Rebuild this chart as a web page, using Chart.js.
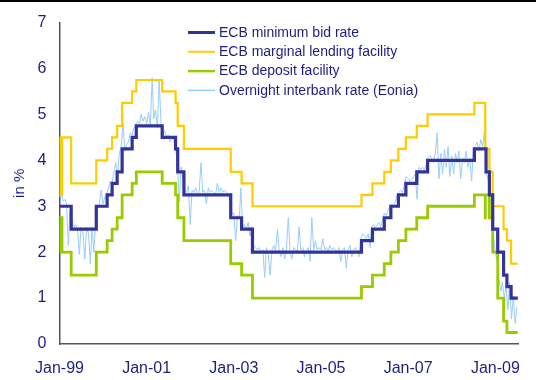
<!DOCTYPE html>
<html>
<head>
<meta charset="utf-8">
<title>ECB policy rates and Eonia</title>
<script src="https://cdn.jsdelivr.net/npm/chart.js@4.4.1/dist/chart.umd.min.js"></script>
<style>
  html, body { margin: 0; padding: 0; background: #ffffff; }
  #wrap { width: 536px; height: 380px; }
</style>
</head>
<body>
<div id="wrap"><canvas id="rates" width="536" height="380"></canvas></div>
<script>
// Series names, in legend order
const seriesLabels = [
  "ECB minimum bid rate",
  "ECB marginal lending facility",
  "ECB deposit facility",
  "Overnight interbank rate (Eonia)"
];

// Dates on which the ECB changed its key rates (last entry closes the series)
const changeDates = [
  "1999-01-01", "1999-01-04", "1999-01-22", "1999-04-09", "1999-11-05",
  "2000-02-04", "2000-03-17", "2000-04-28", "2000-06-09", "2000-09-01",
  "2000-10-06", "2001-05-11", "2001-08-31", "2001-09-18", "2001-11-09",
  "2002-12-06", "2003-03-07", "2003-06-06", "2005-12-06", "2006-03-08",
  "2006-06-15", "2006-08-09", "2006-10-11", "2006-12-13", "2007-03-14",
  "2007-06-13", "2008-07-09", "2008-10-08", "2008-10-09", "2008-10-15",
  "2008-11-12", "2008-12-10", "2009-01-21", "2009-03-11", "2009-04-08",
  "2009-05-13", "2009-07-08"
];

const minBidRate = [
  3.00, 3.00, 3.00, 2.50, 3.00,
  3.25, 3.50, 3.75, 4.25, 4.50,
  4.75, 4.50, 4.25, 3.75, 3.25,
  2.75, 2.50, 2.00, 2.25, 2.50,
  2.75, 3.00, 3.25, 3.50, 3.75,
  4.00, 4.25, 4.25, 4.25, 3.75,
  3.25, 2.50, 2.00, 1.50, 1.25,
  1.00, 1.00
];

const marginalLending = [
  4.50, 3.25, 4.50, 3.50, 4.00,
  4.25, 4.50, 4.75, 5.25, 5.50,
  5.75, 5.50, 5.25, 4.75, 4.25,
  3.75, 3.50, 3.00, 3.25, 3.50,
  3.75, 4.00, 4.25, 4.50, 4.75,
  5.00, 5.25, 4.75, 4.25, 4.25,
  3.75, 3.00, 3.00, 2.50, 2.25,
  1.75, 1.75
];

const depositFacility = [
  2.00, 2.75, 2.00, 1.50, 2.00,
  2.25, 2.50, 2.75, 3.25, 3.50,
  3.75, 3.50, 3.25, 2.75, 2.25,
  1.75, 1.50, 1.00, 1.25, 1.50,
  1.75, 2.00, 2.25, 2.50, 2.75,
  3.00, 3.25, 2.75, 3.25, 3.25,
  2.75, 2.00, 1.00, 0.50, 0.25,
  0.25, 0.25
];

// Eonia, readings on the 1st and 16th of each month from Jan 1999
const eonia = [
  3.20, 3.30, 3.10, 3.15, 3.05, 2.15, 3.00, 2.70, 2.55, 2.60, 2.50, 1.95, 2.55, 2.45, 1.85, 2.55, 2.40, 1.75, 2.55, 2.00, 2.75, 2.95, 3.05, 3.35, // 1999
  3.05, 3.20, 3.25, 3.40, 3.55, 3.50, 3.75, 3.95, 3.70, 4.15, 4.30, 4.80, 4.20, 4.35, 4.40, 4.60, 4.55, 4.70, 4.75, 4.85, 4.80, 5.00, 4.85, 4.95, // 2000
  4.80, 5.05, 4.75, 5.80, 4.90, 5.10, 4.70, 5.75, 4.80, 4.55, 4.65, 4.50, 4.55, 4.40, 4.50, 4.45, 4.25, 3.95, 3.10, 3.85, 3.60, 3.35, 3.30, 3.45, // 2001
  2.60, 3.35, 3.30, 3.40, 3.25, 3.30, 3.95, 3.30, 3.35, 3.05, 3.40, 3.30, 3.35, 3.30, 3.25, 3.50, 3.30, 3.40, 3.30, 3.35, 3.30, 3.25, 3.10, 2.85, // 2002
  2.85, 2.25, 2.80, 2.75, 3.40, 2.55, 2.60, 2.50, 2.65, 2.35, 2.55, 2.15, 2.10, 2.05, 2.10, 2.00, 2.05, 1.45, 2.10, 1.95, 1.50, 2.05, 2.15, 2.00, // 2003
  2.50, 2.05, 1.90, 2.10, 1.85, 2.05, 2.75, 2.05, 1.85, 2.10, 2.05, 2.00, 2.55, 2.05, 2.10, 1.90, 2.05, 2.10, 1.80, 2.75, 2.05, 2.25, 2.05, 2.10, // 2004
  2.05, 2.30, 2.05, 2.10, 2.00, 2.15, 2.05, 2.10, 2.05, 2.00, 2.10, 1.80, 2.05, 2.10, 1.65, 2.05, 2.15, 1.90, 2.05, 2.10, 2.00, 1.90, 2.30, 2.40, // 2005
  2.35, 2.30, 2.40, 2.10, 2.55, 2.60, 2.55, 2.60, 2.65, 2.55, 2.70, 2.85, 2.80, 2.90, 3.00, 3.05, 3.00, 3.10, 3.25, 3.30, 3.35, 3.30, 3.50, 3.65, // 2006
  3.60, 3.55, 3.60, 3.65, 3.70, 3.15, 3.85, 3.80, 3.85, 3.80, 3.90, 4.05, 4.10, 4.05, 3.95, 4.15, 4.60, 3.60, 4.15, 3.70, 4.25, 3.85, 4.30, 3.65, // 2007
  4.10, 3.70, 4.15, 3.95, 4.20, 3.60, 4.05, 3.95, 4.20, 3.85, 4.05, 3.55, 4.25, 4.30, 4.40, 4.20, 4.45, 4.30, 4.65, 3.70, 3.60, 3.20, 3.00, 2.35, // 2008
  2.00, 1.80, 1.40, 1.15, 1.35, 1.00, 1.25, 0.75, 1.35, 0.55, 1.05, 0.45, 0.80                                                                  // 2009
];

const xTickYears = [1999, 2001, 2003, 2005, 2007, 2009];
const xTickLabels = ["Jan-99", "Jan-01", "Jan-03", "Jan-05", "Jan-07", "Jan-09"];
const yTicks = [0, 1, 2, 3, 4, 5, 6, 7];

const TEXT = "#1e1e80";
const FONT = '"Liberation Sans", Arial, sans-serif';
const colors = ["#333399", "#ffcc00", "#99cc00", "#99ccff"];
const widths = [3.2, 2.2, 2.8, 1];
const legendWidths = [3, 2, 2.5, 1.5];

// decimal year for a UTC date
function yearFraction(y, m, d) {
  const t = Date.UTC(y, m, d);
  const start = Date.UTC(y, 0, 1);
  const end = Date.UTC(y + 1, 0, 1);
  return y + (t - start) / (end - start);
}

function parseDate(s) {
  const [y, m, d] = s.split("-").map(Number);
  return yearFraction(y, m - 1, d);
}

function stepPoints(values) {
  return changeDates.map((d, i) => ({ x: parseDate(d), y: values[i] }));
}

const eoniaPoints = eonia.map((v, i) => {
  const month = Math.floor(i / 2);
  const day = i % 2 ? 16 : 1;
  return { x: yearFraction(1999 + Math.floor(month / 12), month % 12, day), y: v };
});

const seriesData = [
  stepPoints(minBidRate),
  stepPoints(marginalLending),
  stepPoints(depositFacility),
  eoniaPoints
];

const datasets = seriesData.map((data, i) => ({
  label: seriesLabels[i],
  data: data,
  borderColor: colors[i],
  backgroundColor: colors[i],
  borderWidth: widths[i],
  stepped: i < 3,
  pointRadius: 0,
  tension: 0,
  borderJoinStyle: "miter",
  borderCapStyle: "butt"
}));

// black rule on top of the page + legend inside the plot
const framePlugin = {
  id: "frame",
  beforeDraw(chart) {
    const ctx = chart.ctx;
    ctx.save();
    ctx.fillStyle = "#ffffff";
    ctx.fillRect(0, 0, chart.width, chart.height);
    ctx.fillStyle = "#000000";
    ctx.fillRect(0, 0, chart.width, 2);
    ctx.restore();
  },
  afterDraw(chart) {
    const ctx = chart.ctx;
    ctx.save();
    ctx.font = "14px " + FONT;
    ctx.textBaseline = "middle";
    chart.data.datasets.forEach((ds, i) => {
      const y = 32.5 + i * 19.3;
      ctx.strokeStyle = ds.borderColor;
      ctx.lineWidth = legendWidths[i];
      ctx.beginPath();
      ctx.moveTo(188, y);
      ctx.lineTo(215, y);
      ctx.stroke();
      ctx.fillStyle = TEXT;
      ctx.fillText(ds.label, 219, y + 0.5);
    });
    ctx.restore();
  }
};

new Chart(document.getElementById("rates").getContext("2d"), {
  type: "line",
  data: { datasets },
  plugins: [framePlugin],
  options: {
    responsive: false,
    animation: false,
    layout: { padding: { left: 0, right: 18, top: 21, bottom: 0 } },
    plugins: {
      legend: { display: false },
      tooltip: { enabled: false }
    },
    scales: {
      x: {
        type: "linear",
        min: 1999,
        max: 2009.52,
        afterBuildTicks(scale) {
          scale.ticks = xTickYears.map((v) => ({ value: v }));
        },
        afterFit(scale) {
          scale.height = 36;
        },
        ticks: {
          autoSkip: false,
          maxRotation: 0,
          padding: 15,
          color: TEXT,
          font: { family: FONT, size: 16 },
          callback: (value, index) => xTickLabels[index]
        },
        grid: { display: true, drawOnChartArea: false, drawTicks: false },
        border: { display: true, color: "#555555", width: 1.5 }
      },
      y: {
        min: 0,
        max: 7,
        afterBuildTicks(scale) {
          scale.ticks = yTicks.map((v) => ({ value: v }));
        },
        afterFit(scale) {
          scale.width = 59.5;
        },
        ticks: {
          padding: 13,
          color: TEXT,
          font: { family: FONT, size: 16 }
        },
        title: {
          display: true,
          text: "in %",
          color: TEXT,
          font: { family: FONT, size: 15 },
          padding: { top: 11, bottom: 0 }
        },
        grid: { display: true, drawOnChartArea: false, drawTicks: false },
        border: { display: true, color: "#555555", width: 1.5 }
      }
    }
  }
});
</script>
</body>
</html>
